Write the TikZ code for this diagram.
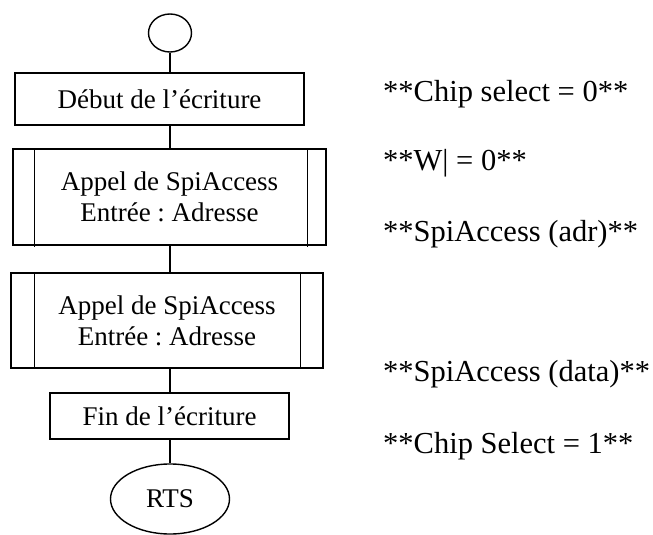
\documentclass[tikz,border=0pt]{standalone}
\usepackage{fontspec}
\setmainfont{Liberation Serif}
\usetikzlibrary{shapes.geometric}
\frenchspacing
\begin{document}
\begin{tikzpicture}[x=1pt,y=-1pt,
  every node/.style={inner sep=0pt},
  flow/.style={draw,line width=1.4pt},
  boxtxt/.style={font=\fontsize{27}{31}\selectfont,align=center},
  proc/.style={flow,rectangle,boxtxt},
  note/.style={font=\fontsize{30.5}{34}\selectfont,anchor=base west},
  link/.style={line width=1.4pt}]
\useasboundingbox (0,0) rectangle (653,535);
\node[flow,ellipse,minimum width=43pt,minimum height=38pt] (start) at (170,33) {};
\node[proc,minimum width=289pt,minimum height=52pt] (b1) at (159.5,99) {Début de l’écriture};
\node[proc,minimum width=313pt,minimum height=96pt] (b2) at (169.5,197) {Appel de SpiAccess\\Entrée : Adresse};
\node[proc,minimum width=312pt,minimum height=95pt] (b3) at (167,320.5) {Appel de SpiAccess\\Entrée : Adresse};
\node[proc,minimum width=239pt,minimum height=46pt] (b4) at (169.5,416) {Fin de l’écriture};
\node[flow,ellipse,boxtxt,minimum width=119pt,minimum height=70pt] (rts) at (170,499) {RTS};
% subroutine side bars
\draw[link] (b2.north west) ++(22,0) coordinate (b2a) -- ++(0,99);
\draw[link] (b2.north east) ++(-19,0) coordinate (b2b) -- ++(0,99);
\draw[link] (b3.north west) ++(24,0) coordinate (b3a) -- ++(0,95);
\draw[link] (b3.north east) ++(-23,0) coordinate (b3b) -- ++(0,95);
% connectors
\draw[link] (start.south) -- (start.south |- b1.north);
\draw[link] (start.south |- b1.south) -- (start.south |- b2.north);
\draw[link] (start.south |- b2.south) -- (start.south |- b3.north);
\draw[link] (start.south |- b3.south) -- (start.south |- b4.north);
\draw[link] (start.south |- b4.south) -- (rts.north);
% notes
\node[note] (n1) at (383,101.5) {**Chip select = 0**};
\node[note] (n2) at (383,170) {**W| = 0**};
\node[note] (n3) at (383,241.5) {**SpiAccess (adr)**};
\node[note] (n4) at (383,381.5) {**SpiAccess (data)**};
\node[note] (n5) at (383,453) {**Chip Select = 1**};
\end{tikzpicture}
\end{document}
